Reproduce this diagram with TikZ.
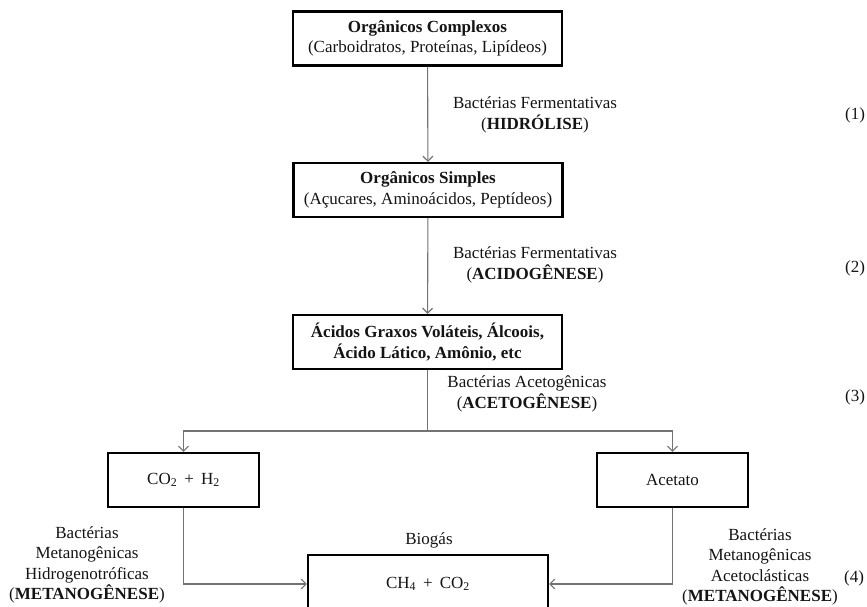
\documentclass[tikz,border=0pt]{standalone}
\usepackage{fontspec}
\setmainfont{Liberation Serif}
\usetikzlibrary{arrows.meta}
\begin{document}
\begin{tikzpicture}[x=1pt,y=-1pt,
  every node/.style={font=\fontsize{17}{20.5}\selectfont, text=black!92, align=center, inner sep=0pt},
  stage/.style={draw=black, line width=2.2pt, minimum width=269pt, minimum height=54pt},
  small/.style={draw=black, line width=2.2pt, minimum width=151pt, minimum height=54pt},
  flow/.style={draw=black!55, line width=1.1pt, -{Straight Barb[length=5pt,width=10pt]}},
  link/.style={draw=black!55, line width=1.1pt}
]
\useasboundingbox (0,0) rectangle (867,607);

% main chain of boxes
\node[stage] (c) at (427.5,38.5) {\textbf{Orgânicos Complexos}\\(Carboidratos, Proteínas, Lipídeos)};
\node[stage] (s) at (428,190) {\textbf{Orgânicos Simples}\\(Açucares, Aminoácidos, Peptídeos)};
\node[stage] (a) at (427.5,342) {\textbf{Ácidos Graxos Voláteis, Álcoois,}\\\textbf{Ácido Lático, Amônio, etc}};
\node[small] (h) at (183.5,480) {CO\textsubscript{2} \,+\, H\textsubscript{2}};
\node[small] (ac) at (672.5,480) {Acetato};
\node[draw=black, line width=2.2pt, minimum width=240pt, minimum height=58pt] (b) at (428,584) {CH\textsubscript{4} \,+\, CO\textsubscript{2}};
\node (bg) at (429,540) {Biogás};

% stage labels
\node (l1) at (535,115) {Bactérias Fermentativas\\(\textbf{HIDRÓLISE})};
\node (l2) at (535,265) {Bactérias Fermentativas\\(\textbf{ACIDOGÊNESE})};
\node (l3) at (527,394) {Bactérias Acetogênicas\\(\textbf{ACETOGÊNESE})};
\node (l4) at (87,565) {Bactérias\\Metanogênicas\\Hidrogenotróficas\\(\textbf{METANOGÊNESE})};
\node (l5) at (760,567) {Bactérias\\Metanogênicas\\Acetoclásticas\\(\textbf{METANOGÊNESE})};

% step numbers
\node (n1) at (855,115) {(1)};
\node (n2) at (855,268) {(2)};
\node (n3) at (855,397) {(3)};
\node (n4) at (854,578) {(4)};

% connectors
\coordinate (j) at (427.5,431);
\draw[flow] (c) -- (s);
\draw[flow] (s) -- (a);
\draw[link] (a.south) -- (j);
\draw[flow] (j) -| (h.north);
\draw[flow] (j) -| (ac.north);
\draw[flow] (h.south) |- (b.west);
\draw[flow] (ac.south) |- (b.east);
\end{tikzpicture}
\end{document}
